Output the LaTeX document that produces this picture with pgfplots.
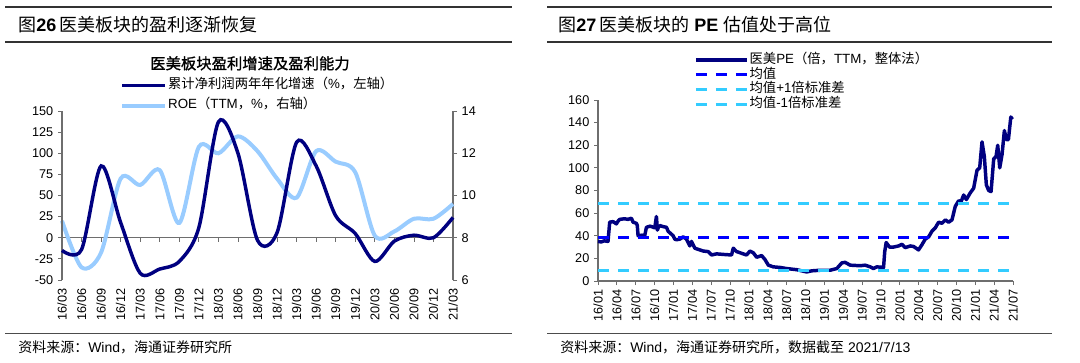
\documentclass[border=0pt]{standalone}
\usepackage{fontspec}
\setmainfont{Liberation Sans}
\newfontfamily\cjk{Noto Sans CJK SC}
\newfontfamily\cjkb[FakeBold=1.2]{Noto Sans CJK SC}
\usepackage{pgfplots}
\pgfplotsset{compat=1.18}
\definecolor{navy}{RGB}{0,0,128}
\definecolor{roe}{RGB}{153,204,255}
\definecolor{meanc}{RGB}{0,0,255}
\definecolor{sdc}{RGB}{51,204,255}
\definecolor{axg}{RGB}{110,110,110}
\begin{document}
\begin{tikzpicture}
\path[use as bounding box] (0,0) rectangle (810pt,271.5pt);
% header rules
\draw[line width=0.8pt, black!80] (3.75pt,266.25pt) -- (384pt,266.25pt);
\draw[line width=0.8pt, black!80] (3.75pt,240pt) -- (384pt,240pt);
\draw[line width=0.8pt, black!80] (410.25pt,266.25pt) -- (789pt,266.25pt);
\draw[line width=0.8pt, black!80] (410.25pt,240pt) -- (789pt,240pt);
\draw[line width=0.6pt, black!70] (3.75pt,21.75pt) -- (384pt,21.75pt);
\draw[line width=0.6pt, black!70] (410.25pt,21.75pt) -- (789pt,21.75pt);
% titles
\node[anchor=west, inner sep=0pt, font=\fontsize{13.5}{15}\selectfont] at (13.5pt,252.75pt) {{\cjk 图}\textbf{26}\,{\cjk 医美板块的盈利逐渐恢复}};
\node[anchor=west, inner sep=0pt, font=\fontsize{13.5}{15}\selectfont] at (418.5pt,252.75pt) {{\cjk 图}\textbf{27}\,{\cjk 医美板块的} \textbf{PE} {\cjk 估值处于高位}};
\node[anchor=center, inner sep=0pt, font=\fontsize{11.5}{13}\selectfont] at (187.5pt,224pt) {\cjkb 医美板块盈利增速及盈利能力};
% sources
\node[anchor=west, inner sep=0pt, font=\fontsize{10.5}{12}\selectfont] at (13.5pt,11.25pt) {{\cjk 资料来源：}Wind{\cjk ，海通证券研究所}};
\node[anchor=west, inner sep=0pt, font=\fontsize{10.5}{12}\selectfont] at (420pt,11.25pt) {{\cjk 资料来源：}Wind{\cjk ，海通证券研究所，数据截至} 2021/7/13};

% ===== left chart: secondary axis (ROE) drawn first =====
\begin{axis}[
  at={(46.5pt,61.5pt)}, anchor=south west,
  scale only axis, width=293.25pt, height=126.75pt,
  xmin=0, xmax=20, ymin=6, ymax=14,
  axis y line*=right, axis x line=none,
  axis line style={axg, line width=0.8pt, -},
  ytick={6,8,...,14},
  tick align=outside, major tick length=3pt,
  ytick style={axg, line width=0.6pt},
  tick label style={font=\fontsize{9.5}{11}\selectfont, text=black},
  /pgf/number format/assume math mode=true,
  clip=false,
]
\draw[axg, line width=0.8pt] (axis cs:0,8) -- (axis cs:20,8);
\pgfplotsinvokeforeach{0,...,20}{\draw[axg, line width=0.6pt] (axis cs:#1,8) -- ++(0pt,-3pt);}
\addplot[roe, line width=3pt, smooth, tension=0.5] coordinates {
(0,8.8)(1,6.6)(2,7.3)(3,10.8)(4,10.5)(5,11.2)(6,8.7)(7,12.3)(8,12.0)(9,12.8)(10,12.1)
(11,10.8)(12,9.9)(13,12.1)(14,11.6)(15,11.1)(16,8.1)(17,8.3)(18,8.9)(19,8.9)(20,9.6)};
\end{axis}

% ===== left chart: primary axis =====
\begin{axis}[
  at={(46.5pt,61.5pt)}, anchor=south west,
  scale only axis, width=293.25pt, height=126.75pt,
  xmin=0, xmax=20, ymin=-50, ymax=150,
  axis y line*=left, axis x line*=bottom,
  axis line style={axg, line width=0.8pt, -},
  x axis line style={draw=none},
  ytick={-50,-25,...,150},
  xtick={0,...,20},
  xticklabels={16/03,16/06,16/09,16/12,17/03,17/06,17/09,17/12,18/03,18/06,18/09,18/12,19/03,19/06,19/09,19/12,20/03,20/06,20/09,20/12,21/03},
  tick align=outside, major tick length=3pt,
  ytick style={axg, line width=0.6pt},
  xtick style={draw=none},
  tick label style={font=\fontsize{9.5}{11}\selectfont, text=black},
  xticklabel style={rotate=90, anchor=east},
  /pgf/number format/assume math mode=true,
  clip=false,
  legend style={at={(0.148,1.195)}, anchor=north west, draw=none, fill=none,
    inner sep=0pt, row sep=4pt, font=\fontsize{10}{12}\selectfont,
    nodes={inner sep=1pt, text height=7pt, text depth=2pt}},
  legend cell align=left,
  legend image code/.code={\draw[#1] (0pt,0pt) -- (32pt,0pt);},
]
\addplot[navy, line width=2.6pt, smooth, tension=0.5] coordinates {
(0,-15)(1,-14)(2,85)(3,18)(4,-42)(5,-37)(6,-28)(7,12)(8,137)(9,100)(10,-3)
(11,6)(12,113)(13,85)(14,26)(15,5)(16,-28)(17,-4)(18,3)(19,0)(20,24)};
\addlegendentry{{\cjk 累计净利润两年年化增速（}\%{\cjk ，左轴）}}
\addlegendimage{roe, line width=3pt}
\addlegendentry{ROE{\cjk （}TTM{\cjk ，}\%{\cjk ，右轴）}}
\end{axis}

% ===== right chart =====
\begin{axis}[
  at={(448.5pt,60.75pt)}, anchor=south west,
  scale only axis, width=311.25pt, height=135.75pt,
  xmin=0, xmax=66, ymin=0, ymax=160,
  axis y line*=left, axis x line*=bottom,
  axis line style={axg, line width=0.8pt, -},
  ytick={0,20,...,160},
  xtick={0,3,...,66},
  xticklabels={16/01,16/04,16/07,16/10,17/01,17/04,17/07,17/10,18/01,18/04,18/07,18/10,19/01,19/04,19/07,19/10,20/01,20/04,20/07,20/10,21/01,21/04,21/07},
  tick align=outside, major tick length=3pt,
  tick style={axg, line width=0.6pt},
  tick label style={font=\fontsize{9.5}{11}\selectfont, text=black},
  xticklabel style={rotate=90, anchor=east},
  /pgf/number format/assume math mode=true,
  clip=false,
  legend style={at={(0.231,1.262)}, anchor=north west, draw=none, fill=none,
    inner sep=0pt, row sep=0pt, font=\fontsize{10}{12}\selectfont,
    nodes={inner sep=1pt, text height=7pt, text depth=2pt}},
  legend cell align=left,
  legend image code/.code={\draw[#1] (0pt,0pt) -- (38pt,0pt);},
]
\addplot[navy, line width=2.6pt, line join=round] coordinates {
(0,35)(0.5,34.5)(1,35.5)(1.59,35)(1.86,52)(2.4,52.5)(2.92,50.5)(3.2,53)(3.45,54.5)(4.2,55)(4.8,54.5)(5.31,55.5)(5.58,52)(6.11,51)(6.25,49)(6.37,40)(7,40.5)(7.43,40)(7.70,47.5)(8.3,48.5)(9.03,47)(9.29,57)(9.45,45)(9.56,47)(9.82,49)(10.4,48)(10.89,47.5)(11.15,44)(11.95,40)(12.21,37)(12.48,36.5)(13.01,37)(13.54,39)(14.07,37)(14.60,31)(14.87,35)(15.40,29)(15.93,28)(16.73,26.5)(17.53,26)(18.06,23)(18.85,24)(19.92,23.5)(21.24,23)(21.51,29)(22.04,26)(23.10,24)(23.63,23)(24.16,26.5)(24.69,25)(25.23,21)(26.02,22.5)(26.55,19)(27.09,14)(27.88,12.5)(28.94,12)(30.01,11)(31.60,10)(33.19,8)(33.99,9)(35.32,9.5)(36.91,9.5)(37.97,11)(38.77,16)(39.30,16.5)(40.10,14)(41.69,13.5)(42.49,14)(43.28,12.5)(43.81,11)(44.34,12.5)(45.41,12)(45.6,26)(45.83,34)(46.36,30)(47.00,30)(47.80,31)(48.33,32.5)(48.86,29.5)(49.65,31)(50.19,30.5)(50.98,27.5)(51.51,32)(52.04,37)(52.58,39)(53.11,44)(53.64,47)(54.17,52)(54.70,51)(55.23,54)(55.76,52)(56.29,54)(56.82,66)(57.36,71)(57.73,70)(58.15,76)(58.58,72)(59.21,78)(59.74,82)(60.28,98)(60.70,100)(61.07,123)(61.44,110)(61.76,85)(62.13,80)(62.51,79)(62.93,108)(63.30,110)(63.57,120)(63.89,100)(64.26,112)(64.63,133)(64.95,125)(65.27,125)(65.65,145)(65.91,143)};
\addlegendentry{{\cjk 医美}PE{\cjk （倍，}TTM{\cjk ，整体法）}}
\addplot[meanc, line width=2.2pt, dash pattern=on 8.25pt off 6.75pt] coordinates {(0,38.8)(65.4,38.8)};
\addlegendentry{{\cjk 均值}}
\addplot[sdc, line width=2.2pt, dash pattern=on 8.25pt off 6.75pt] coordinates {(0,68.3)(65.4,68.3)};
\addlegendentry{{\cjk 均值}+1{\cjk 倍标准差}}
\addplot[sdc, line width=2.2pt, dash pattern=on 8.25pt off 6.75pt] coordinates {(0,9.3)(65.4,9.3)};
\addlegendentry{{\cjk 均值}-1{\cjk 倍标准差}}
\end{axis}
\end{tikzpicture}
\end{document}
